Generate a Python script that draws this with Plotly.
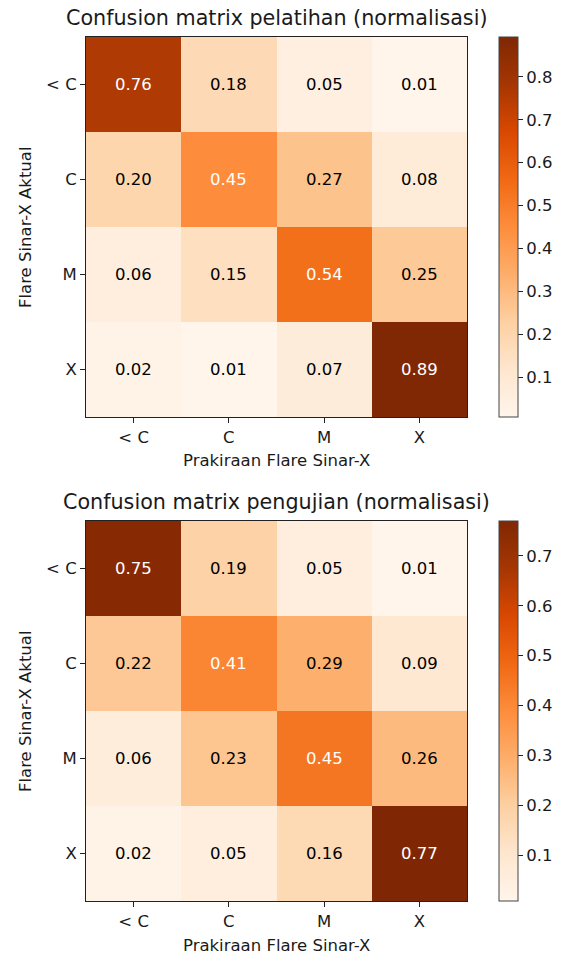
import plotly.graph_objects as go

labels = ["< C", "C", "M", "X"]

train_vals = [
    [0.76, 0.18, 0.05, 0.01],
    [0.20, 0.45, 0.27, 0.08],
    [0.06, 0.15, 0.54, 0.25],
    [0.02, 0.01, 0.07, 0.89],
]
test_vals = [
    [0.75, 0.19, 0.05, 0.01],
    [0.22, 0.41, 0.29, 0.09],
    [0.06, 0.23, 0.45, 0.26],
    [0.02, 0.05, 0.16, 0.77],
]
train_range = (0.007, 0.893)
test_range = (0.008, 0.770)

title_train = "Confusion matrix pelatihan (normalisasi)"
title_test = "Confusion matrix pengujian (normalisasi)"
xlabel = "Prakiraan Flare Sinar-X"
ylabel = "Flare Sinar-X Aktual"

W, H = 568, 956
FONT = "DejaVu Sans"
TXT = "#1a1a1a"
FS = 16.5
FT = 20.7

def px_x(p):
    return p / W

def px_y(p):
    return 1 - p / H

panels = [
    dict(vals=train_vals, rng=train_range, title=title_train, top=37, bottom=417, ax=""),
    dict(vals=test_vals, rng=test_range, title=title_test, top=521, bottom=901, ax="2"),
]

fig = go.Figure()
annotations = []
left, right = 86, 467

for p in panels:
    zmin, zmax = p["rng"]
    thresh = max(max(r) for r in p["vals"]) / 2
    xa = "x" + p["ax"]
    ya = "y" + p["ax"]
    fig.add_trace(go.Heatmap(
        z=p["vals"], x=labels, y=labels, xaxis=xa, yaxis=ya,
        colorscale="Oranges", zmin=zmin, zmax=zmax,
        hoverinfo="skip",
        colorbar=dict(
            x=px_x(499), xanchor="left", xpad=0, ypad=0,
            y=px_y((p["top"] + p["bottom"]) / 2), yanchor="middle",
            lenmode="pixels", len=p["bottom"] - p["top"],
            thickness=19, outlinecolor="#444", outlinewidth=1,
            ticks="outside", ticklen=5, tickcolor="#222", tickwidth=1,
            tick0=0, dtick=0.1, tickformat=".1f",
            tickfont=dict(family=FONT, size=FS, color=TXT),
        ),
    ))
    for i, row in enumerate(p["vals"]):
        for j, v in enumerate(row):
            annotations.append(dict(
                x=labels[j], y=labels[i], xref=xa, yref=ya,
                text=f"{v:.2f}", showarrow=False,
                font=dict(family=FONT, size=FS,
                          color="white" if v > thresh else "black"),
            ))
    cx = px_x((left + right) / 2)
    annotations.append(dict(
        x=cx, y=px_y(p["top"] - 19), xref="paper", yref="paper",
        xanchor="center", yanchor="middle", text=p["title"], showarrow=False,
        font=dict(family=FONT, size=FT, color=TXT),
    ))
    annotations.append(dict(
        x=cx, y=px_y(p["bottom"] + 44), xref="paper", yref="paper",
        xanchor="center", yanchor="middle", text=xlabel, showarrow=False,
        font=dict(family=FONT, size=FS, color=TXT),
    ))
    annotations.append(dict(
        x=px_x(25), y=px_y((p["top"] + p["bottom"]) / 2), xref="paper", yref="paper",
        xanchor="center", yanchor="middle", text=ylabel, showarrow=False,
        textangle=-90, font=dict(family=FONT, size=FS, color=TXT),
    ))
    axis_common = dict(
        showline=True, mirror=True, linecolor="#222", linewidth=1,
        ticks="outside", ticklen=5, tickcolor="#222", tickwidth=1,
        tickfont=dict(family=FONT, size=FS, color=TXT),
        showgrid=False, zeroline=False, fixedrange=True, automargin=False,
    )
    fig.layout["xaxis" + p["ax"]] = dict(
        axis_common,
        domain=[px_x(left), px_x(right)], anchor=ya,
    )
    fig.layout["yaxis" + p["ax"]] = dict(
        axis_common,
        domain=[px_y(p["bottom"]), px_y(p["top"])], anchor=xa,
        autorange="reversed",
    )

fig.update_layout(
    width=W, height=H, margin=dict(l=0, r=0, t=0, b=0),
    paper_bgcolor="white", plot_bgcolor="white",
    annotations=annotations, showlegend=False,
)

fig.write_html(
    "out.html",
    config={"displayModeBar": False},
    post_script="document.body.style.margin='0px';document.body.style.overflow='hidden';",
)
